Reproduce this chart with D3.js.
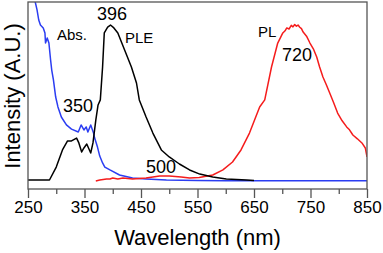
<!DOCTYPE html>
<html><head><meta charset="utf-8">
<script src="https://cdn.jsdelivr.net/npm/d3@7"></script>
<style>body{margin:0;background:#fff}svg{display:block;font-family:"Liberation Sans",Arial,sans-serif}</style>
</head><body><svg id="c" width="383" height="253"></svg>
<script>
const majorTicks = [250, 350, 450, 550, 650, 750, 850];
const minorTicks = [300, 400, 500, 600, 700, 800];
const pleWl = [250,288,300,311,320,327,336,340,345,349,354,361,365,370,374,378,382,385,391,396,402,409,421,433,442,447,459,471,486,500,518,536,554,577,601,637,650];
const pleVal = [0.011,0.011,0.083,0.178,0.228,0.228,0.244,0.217,0.167,0.189,0.211,0.161,0.217,0.344,0.428,0.456,0.639,0.828,0.861,0.872,0.856,0.828,0.733,0.639,0.55,0.456,0.361,0.272,0.178,0.139,0.1,0.067,0.044,0.028,0.017,0.011,0.008];
const absWl = [258,262,266,269,272,277,280,281,284,287,290,292,295,299,303,309,318,327,339,344,349,353,356,361,366,368,373,377,382,386,395,412,435,459,495,550,600,650,700,750,800,850];
const absVal = [1.1,1.011,0.956,0.9,0.872,0.856,0.828,0.772,0.8,0.772,0.678,0.622,0.567,0.472,0.417,0.361,0.317,0.294,0.278,0.317,0.289,0.306,0.278,0.317,0.272,0.244,0.194,0.144,0.106,0.083,0.067,0.039,0.022,0.017,0.011,0.008,0.007,0.007,0.007,0.007,0.007,0.007];
const plWl = [370,377,389,395,400,409,418,435,459,483,500,521,536,553,577,595,612,627,642,651,660,669,681,692,701,705,708,712,716,719,722,725,728,731,734,737,743,749,755,761,766,772,778,784,791,798,806,814,819,825,833,841,847,850];
const plVal = [0.006,0.011,0.017,0.017,0.022,0.017,0.022,0.017,0.022,0.033,0.033,0.028,0.022,0.025,0.039,0.067,0.111,0.178,0.272,0.344,0.417,0.456,0.639,0.772,0.828,0.84,0.856,0.85,0.87,0.862,0.875,0.866,0.872,0.86,0.852,0.833,0.81,0.772,0.74,0.694,0.64,0.583,0.54,0.494,0.44,0.383,0.34,0.306,0.29,0.261,0.24,0.217,0.189,0.139];

const svg = d3.select('#c');
const L = 28, R = 367, T = 2, B = 189;
const x = d3.scaleLinear().domain([250, 850]).range([L, R]);
const y = d3.scaleLinear().domain([0, 1]).range([182, 2]);

svg.append('clipPath').attr('id','clip').append('rect').attr('x',L).attr('y',T).attr('width',R-L).attr('height',B-T);

const line = d3.line().x(d => x(d[0])).y(d => y(d[1]));
const series = [
  {wl: absWl, v: absVal, color: '#2b3df2'},
  {wl: plWl, v: plVal, color: '#f51c1c'},
  {wl: pleWl, v: pleVal, color: '#000'}
];
series.forEach(s => {
  svg.append('path').attr('clip-path','url(#clip)')
    .datum(s.wl.map((w,i) => [w, s.v[i]]))
    .attr('d', line).attr('fill','none').attr('stroke', s.color).attr('stroke-width',1.5).attr('stroke-linejoin','round');
});

// frame
svg.append('rect').attr('x',L).attr('y',T).attr('width',R-L).attr('height',B-T)
  .attr('fill','none').attr('stroke','#555').attr('stroke-width',1.3);

const gMaj = svg.append('g').attr('transform',`translate(0,${B})`)
  .call(d3.axisBottom(x).tickValues(majorTicks).tickSize(9).tickPadding(3).tickFormat(d3.format('d')));
const gMin = svg.append('g').attr('transform',`translate(0,${B})`)
  .call(d3.axisBottom(x).tickValues(minorTicks).tickSize(5).tickFormat(''));
[gMaj, gMin].forEach(g => {
  g.select('.domain').remove();
  g.selectAll('line').attr('stroke','#555').attr('stroke-width',1.3);
});
gMaj.selectAll('text').attr('font-size',17).attr('fill','#000').attr('font-family','"Liberation Sans",Arial,sans-serif');

svg.append('text').attr('x',(L+R)/2).attr('y',245).attr('text-anchor','middle')
  .attr('font-size',22).text('Wavelength (nm)');
svg.append('text').attr('transform','translate(20,96) rotate(-90)').attr('text-anchor','middle')
  .attr('font-size',22).text('Intensity (A.U.)');

const ann = [
  {t:'396', x:97, y:20, s:18},
  {t:'Abs.', x:57, y:40, s:15},
  {t:'PLE', x:125, y:43, s:15},
  {t:'350', x:63, y:112, s:18},
  {t:'500', x:146, y:173, s:18},
  {t:'PL', x:258, y:37, s:15},
  {t:'720', x:282, y:61, s:18}
];
ann.forEach(a => svg.append('text').attr('x',a.x).attr('y',a.y).attr('font-size',a.s).text(a.t));
</script></body></html>
